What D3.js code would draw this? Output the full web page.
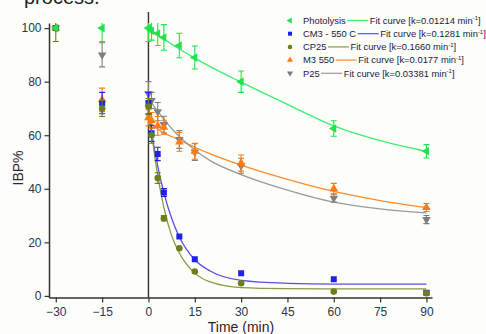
<!DOCTYPE html>
<html>
<head>
<meta charset="utf-8">
<script src="https://cdn.jsdelivr.net/npm/d3@7"></script>
<style>
  html, body { margin: 0; padding: 0; background: #fdfdf9; }
  svg { display: block; font-family: "Liberation Sans", Arial, sans-serif; }
</style>
</head>
<body>
<svg id="chart"></svg>
<script>
// sample times (min)
var times = [-30, -15, 0, 1, 3, 5, 10, 15, 30, 60, 90];

// measured IBP% per catalyst, with error bar half widths
var photolysis    = [100, 100, 100, 99, 98, 96.5, 93.5, 89, 80, 62.5, 54];
var photolysisErr = [0, 5, 5, 3.5, 4.5, 4.8, 4.6, 4.3, 4, 2.9, 2.5];
var cm3           = [100, 72, 72, 60.7, 53, 38.6, 22.2, 13.7, 8.5, 6.2, 1.2];
var cm3Err        = [0, 4, 4, 3, 2.5, 1.5, 0, 0, 0, 0, 0.8];
var cp25          = [100, 70, 70.7, 60, 44, 29, 17.8, 9.1, 4.7, 1.6, 1.0];
var cp25Err       = [5, 3, 3, 3, 2, 1, 0, 0, 0, 0, 0];
var m3            = [100, 73.2, 66.5, 65.5, 63.5, 63, 57.5, 54, 49.6, 40, 33];
var m3Err         = [0, 4.4, 3, 3, 3.5, 2.6, 3.5, 3, 3, 2, 1.5];
var p25           = [100, 90, 75.5, 73, 68.8, 64, 58.4, 53.7, 48.6, 36.5, 28.5];
var p25Err        = [0, 4.5, 4.5, 3, 3.4, 3.1, 3.3, 3.1, 2.8, 1.5, 1.5];

// fit curves
var fitTimes = [0, 1, 2, 3, 5, 7.5, 10, 15, 20, 30, 45, 60, 75, 90];
var photolysisFit = [100, 99.2, 98.4, 97.5, 95.9, 94, 92.2, 88.8, 85.6, 79.8, 71.5, 63.5, 58, 54];
var cm3Fit        = [68.5, 61, 54.5, 48.5, 38.5, 29, 22, 13.5, 9.3, 5.8, 4.7, 4.4, 4.4, 4.4];
var cp25Fit       = [72, 61.5, 52.5, 45, 33, 22.5, 16, 8.5, 5.2, 3.1, 2.7, 2.6, 2.6, 2.6];
var m3Fit         = [65, 64.2, 63.2, 62.3, 60.8, 59.5, 58.2, 55.5, 53, 48.8, 43.5, 39, 35.6, 33];
var p25Fit        = [74, 72.3, 70.5, 69, 66, 62.5, 59.5, 54.5, 50.5, 45.3, 39.5, 35, 32.5, 31];

var names = ["Photolysis", "CM3 - 550 C", "CP25", "M3 550", "P25"];
var kLabels = ["0.01214", "0.1281", "0.1660", "0.0177", "0.03381"];

var xTicks = [-30, -15, 0, 15, 30, 45, 60, 75, 90];
var yTicks = [0, 20, 40, 60, 80, 100];

//colours
var green = "#1fe24c", blue = "#2020ee", olive = "#6b7f1e", orange = "#ff7a12", grey = "#7f7f7f";

var series = [
  {name: names[0], k: kLabels[0], y: photolysis, err: photolysisErr, fit: photolysisFit,
   color: green, line: "#3cee72", sym: d3.symbolTriangle, rot: -90, size: 32},
  {name: names[1], k: kLabels[1], y: cm3, err: cm3Err, fit: cm3Fit,
   color: blue, line: "#5a4cf0", sym: d3.symbolSquare, rot: 0, size: 36},
  {name: names[2], k: kLabels[2], y: cp25, err: cp25Err, fit: cp25Fit,
   color: olive, line: "#8a9848", sym: d3.symbolCircle, rot: 0, size: 34},
  {name: names[3], k: kLabels[3], y: m3, err: m3Err, fit: m3Fit,
   color: orange, line: "#ff8a2a", sym: d3.symbolTriangle, rot: 0, size: 32},
  {name: names[4], k: kLabels[4], y: p25, err: p25Err, fit: p25Fit,
   color: grey, line: "#9a9a9a", sym: d3.symbolTriangle, rot: 180, size: 32}
];

var W = 486, H = 334;
var svg = d3.select("#chart").attr("width", W).attr("height", H);

// cut-off caption line of the page above the figure
svg.append("text").attr("x", 24).attr("y", 4)
   .attr("font-size", 20).attr("fill", "#222").text("process.");

var x = d3.scaleLinear().domain([-32.2, 91.8]).range([49, 432]);
var y = d3.scaleLinear().domain([-0.6, 101.9]).range([297.5, 23]);

svg.append("clipPath").attr("id", "plotclip")
   .append("rect").attr("x", 49).attr("y", 23).attr("width", 383).attr("height", 274.5);

// axes
var axisColor = "#333";
var xMinor = d3.range(-22.5, 91, 15);
var yMinor = d3.range(10, 100, 20);

var gx = svg.append("g").attr("transform", "translate(0," + y.range()[0] + ")");
gx.call(d3.axisBottom(x).tickValues(xMinor).tickSize(3).tickFormat("").tickSizeOuter(0));
gx.call(d3.axisBottom(x).tickValues(xTicks).tickSize(5).tickSizeOuter(0).tickPadding(5).tickFormat(d3.format("d")));
gx.selectAll(".domain").attr("stroke", axisColor).attr("stroke-width", 1.5);
gx.selectAll("line").attr("stroke", axisColor).attr("stroke-width", 1.2);
gx.selectAll("text").attr("font-size", 12).attr("fill", "#2a3550")
  .attr("font-family", "Liberation Sans, Arial, sans-serif");

var gy = svg.append("g").attr("transform", "translate(" + x.range()[0] + ",0)");
gy.call(d3.axisLeft(y).tickValues(yMinor).tickSize(3).tickFormat("").tickSizeOuter(0));
gy.call(d3.axisLeft(y).tickValues(yTicks).tickSize(4.5).tickSizeOuter(0).tickPadding(3));
gy.selectAll(".domain").attr("stroke", axisColor).attr("stroke-width", 1.5);
gy.selectAll("line").attr("stroke", axisColor).attr("stroke-width", 1.2);
gy.selectAll("text").attr("font-size", 12).attr("fill", "#2a3550")
  .attr("font-family", "Liberation Sans, Arial, sans-serif");

// vertical marker at t = 0
svg.append("line")
   .attr("x1", x(0)).attr("x2", x(0)).attr("y1", 12).attr("y2", y.range()[0])
   .attr("stroke", axisColor).attr("stroke-width", 1.4);

// axis titles
svg.append("text").attr("x", 241).attr("y", 332).attr("text-anchor", "middle")
   .attr("font-size", 14).attr("fill", "#3a1a2a").text("Time (min)");
svg.append("text").attr("transform", "translate(23,168) rotate(-90)")
   .attr("text-anchor", "middle").attr("font-size", 14).attr("fill", "#2a2a3a").text("IBP%");

var plot = svg.append("g").attr("clip-path", "url(#plotclip)");

// fit curves
var fitLine = d3.line()
  .x(function(d, i) { return x(fitTimes[i]); })
  .y(function(d) { return y(d); })
  .curve(d3.curveMonotoneX);

series.forEach(function(s) {
  plot.append("path").datum(s.fit)
      .attr("d", fitLine)
      .attr("fill", "none")
      .attr("stroke", s.line)
      .attr("stroke-width", 1.3);
});

// markers and error bars, drawn back to front
var drawOrder = [4, 3, 1, 2, 0];
drawOrder.forEach(function(idx) {
  var s = series[idx];
  var g = plot.append("g");
  var pts = times.map(function(t, i) { return {t: t, v: s.y[i], e: s.err[i]}; });
  var eb = g.selectAll(".eb").data(pts.filter(function(d) { return d.e > 0; }))
    .enter().append("g").attr("class", "eb")
    .attr("stroke", s.color).attr("stroke-width", 1.1);
  eb.append("line")
    .attr("x1", function(d) { return x(d.t); }).attr("x2", function(d) { return x(d.t); })
    .attr("y1", function(d) { return y(d.v + d.e); }).attr("y2", function(d) { return y(d.v - d.e); });
  eb.append("line")
    .attr("x1", function(d) { return x(d.t) - 3; }).attr("x2", function(d) { return x(d.t) + 3; })
    .attr("y1", function(d) { return y(d.v + d.e); }).attr("y2", function(d) { return y(d.v + d.e); });
  eb.append("line")
    .attr("x1", function(d) { return x(d.t) - 3; }).attr("x2", function(d) { return x(d.t) + 3; })
    .attr("y1", function(d) { return y(d.v - d.e); }).attr("y2", function(d) { return y(d.v - d.e); });

  g.selectAll(".pt").data(pts).enter().append("path")
    .attr("class", "pt")
    .attr("d", d3.symbol().type(s.sym).size(s.size))
    .attr("transform", function(d) {
      return "translate(" + x(d.t) + "," + y(d.v) + ") rotate(" + s.rot + ")";
    })
    .attr("fill", s.color);
});

// legend
var legend = svg.append("g").attr("font-size", 9.4).attr("fill", "#1a1a40");
series.forEach(function(s, i) {
  var ly = 20.5 + i * 13.2;
  var row = legend.append("g").attr("transform", "translate(0," + ly + ")");
  row.append("path")
     .attr("d", d3.symbol().type(s.sym).size(16))
     .attr("transform", "translate(290,0) rotate(" + s.rot + ")")
     .attr("fill", s.color);
  var nameText = row.append("text").attr("x", 303).attr("y", 3.3).text(s.name);
  var nx = 303 + nameText.node().getComputedTextLength() + 1.5;
  row.append("line").attr("x1", nx).attr("x2", nx + 21).attr("y1", 0).attr("y2", 0)
     .attr("stroke", s.line).attr("stroke-width", 1.2);
  var fit = row.append("text").attr("x", nx + 22.5).attr("y", 3.3);
  fit.append("tspan").text("Fit curve [k=" + s.k + " min");
  fit.append("tspan").attr("font-size", 6).attr("dy", -3.5).text("-1");
  fit.append("tspan").attr("dy", 3.5).text("]");
});
</script>
</body>
</html>
